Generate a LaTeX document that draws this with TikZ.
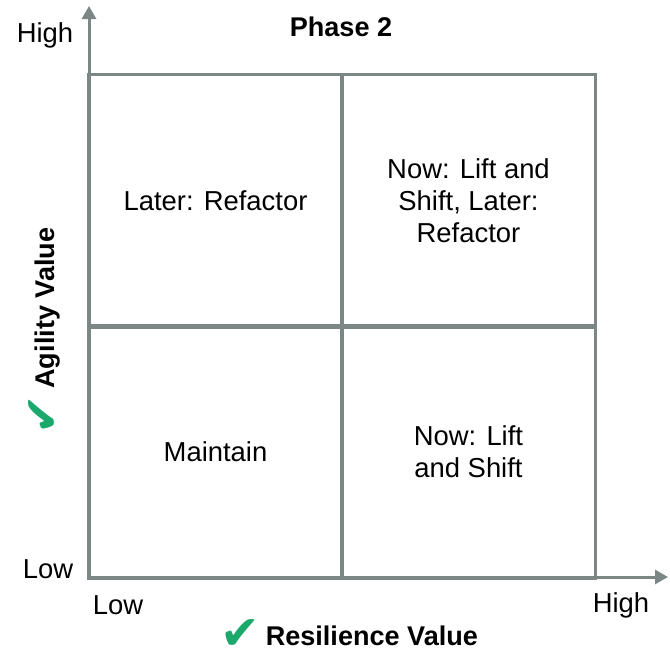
\documentclass[tikz,border=0pt]{standalone}
\usepackage{fontspec}
\setmainfont{Liberation Sans}
\newfontfamily\checkfont{DejaVu Sans}
\usetikzlibrary{arrows.meta, positioning}
\definecolor{gridgray}{HTML}{7C8685}
\definecolor{checkgreen}{HTML}{1BA86B}
\newcommand{\greencheck}{\smash{\raisebox{-0.8mm}{\color{checkgreen}\checkfont\fontsize{27}{27}\selectfont ✔}}}

\begin{document}
\begin{tikzpicture}[x=0.2mm, y=-0.2mm,
    cell/.style={rectangle, draw=gridgray, line width=0.6mm, minimum width=50.6mm, minimum height=50.6mm, inner sep=0pt, align=center, font=\fontsize{15.6}{18.2}\selectfont},
    ticklabel/.style={font=\fontsize{15.6}{18.2}\selectfont},
    axistitle/.style={font=\fontsize{15.4}{18}\selectfont\bfseries},
    axis/.style={-{Triangle[length=2.6mm, width=2.8mm]}, line width=0.6mm, color=gridgray}
]
\useasboundingbox (0,0) rectangle (670,650);

% quadrants
\node[cell] (lowhigh) at (215.5,201) {Later: Refactor};
\node[cell] (highhigh) at (468.5,201) {Now: Lift and\\Shift, Later:\\Refactor};
\node[cell] (lowlow) at (215.5,452) {Maintain};
\node[cell] (highlow) at (468.5,452) {Now: Lift\\and Shift};

% axes
\coordinate (origin) at (89,577);
\coordinate (ytop) at (89,6);
\coordinate (xend) at (668,577);
\draw[axis] (origin) -- (ytop);
\draw[axis] (origin) -- (xend);

\node[axistitle] (phase) at (341,27) {Phase 2};
\node[ticklabel] (yhigh) at (45,35) {High};
\node[ticklabel] (ylow) at (48,569) {Low};
\node[ticklabel] (xlow) at (118,605) {Low};
\node[ticklabel] (xhigh) at (621,605) {High};

\node[axistitle] (resilience) at (349,636) {\greencheck\hspace{1.2mm}Resilience Value};
\node[axistitle, rotate=90] (agility) at (48,331) {\greencheck\hspace{1.2mm}Agility Value};

\end{tikzpicture}
\end{document}
